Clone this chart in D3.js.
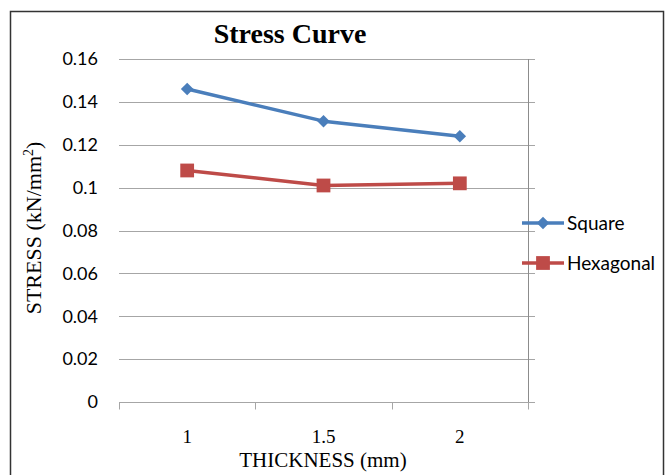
<!DOCTYPE html>
<html>
<head>
<meta charset="utf-8">
<script src="https://cdn.jsdelivr.net/npm/d3@7"></script>
<style>
  html, body { margin: 0; padding: 0; background: #fff; }
  svg { display: block; }
</style>
</head>
<body>
<svg id="chart" width="671" height="475"></svg>
<script>
// Thickness categories and stress values (kN/mm²)
const thickness = ["1", "1.5", "2"];
const squareStress = [0.146, 0.131, 0.124];
const hexagonalStress = [0.108, 0.101, 0.102];
const yTicks = [0, 0.02, 0.04, 0.06, 0.08, 0.1, 0.12, 0.14, 0.16];
const seriesNames = ["Square", "Hexagonal"];
const seriesColors = ["#4a7ebb", "#be4b48"];

const svg = d3.select("#chart");
const plot = { left: 119, right: 528, top: 59, bottom: 402 };

// Outer chart frame
svg.append("rect").attr("x", 10.5).attr("y", 11.5).attr("width", 653).attr("height", 480)
  .attr("fill", "#fff").attr("stroke", "#333").attr("stroke-width", 1.5);

const x = d3.scaleBand().domain(thickness).range([plot.left, plot.right]);
const y = d3.scaleLinear().domain([0, 0.16]).range([plot.bottom, plot.top]);

const sans = "Lato, 'Open Sans', sans-serif";
const serif = "'Liberation Serif', 'DejaVu Serif', serif";

// Horizontal gridlines
svg.append("g").selectAll("line").data(yTicks).join("line")
  .attr("x1", plot.left).attr("x2", plot.right + 7)
  .attr("y1", d => Math.round(y(d)) + 0.5).attr("y2", d => Math.round(y(d)) + 0.5)
  .attr("stroke", "#a6a6a6").attr("stroke-width", 1);

// Right vertical line
svg.append("line")
  .attr("x1", plot.right + 0.5).attr("x2", plot.right + 0.5)
  .attr("y1", plot.top).attr("y2", plot.bottom + 7)
  .attr("stroke", "#8c8c8c").attr("stroke-width", 1);

// Y tick labels
svg.append("g").selectAll("text").data(yTicks).join("text")
  .attr("x", 98).attr("y", d => y(d))
  .attr("dy", "0.35em")
  .attr("text-anchor", "end")
  .attr("font-family", sans).attr("font-size", 18).attr("fill", "#000")
  .text(d => d === 0 ? "0" : String(+d.toFixed(2)));

// X axis with band-boundary ticks
const xAxis = svg.append("g").attr("transform", `translate(0,${plot.bottom + 0.5})`);
xAxis.append("line").attr("x1", plot.left).attr("x2", plot.right + 7)
  .attr("stroke", "#a6a6a6");
const boundaries = thickness.map(d => x(d)).concat([x(thickness[thickness.length - 1]) + x.bandwidth()]);
xAxis.selectAll("line.tk").data(boundaries).join("line").attr("class", "tk")
  .attr("x1", d => Math.round(d) + 0.5).attr("x2", d => Math.round(d) + 0.5)
  .attr("y1", 0).attr("y2", 7).attr("stroke", "#a6a6a6");
xAxis.selectAll("text").data(thickness).join("text")
  .attr("x", d => x(d) + x.bandwidth() / 2).attr("y", 40)
  .attr("text-anchor", "middle")
  .attr("font-family", serif).attr("font-size", 19).attr("fill", "#000")
  .text(d => d);

// Title and axis titles
svg.append("text").attr("x", 290).attr("y", 43).attr("text-anchor", "middle")
  .attr("font-family", serif).attr("font-weight", "bold").attr("font-size", 28)
  .text("Stress Curve");
svg.append("text").attr("x", 323).attr("y", 467).attr("text-anchor", "middle")
  .attr("font-family", serif).attr("font-size", 21)
  .text("THICKNESS (mm)");
const yTitle = svg.append("text")
  .attr("transform", "translate(41,228) rotate(-90)")
  .attr("text-anchor", "middle")
  .attr("font-family", serif).attr("font-size", 22);
yTitle.append("tspan").text("STRESS (kN/mm");
yTitle.append("tspan").attr("font-size", 14).attr("dy", -8).text("2");
yTitle.append("tspan").attr("dy", 8).text(")");

// Series lines and markers
const series = [squareStress, hexagonalStress];
const line = d3.line().x((d, i) => x(thickness[i]) + x.bandwidth() / 2).y(d => y(d));
const diamond = d3.symbol().type(d3.symbolDiamond2).size(100);
const square = d3.symbol().type(d3.symbolSquare).size(190);
const shapes = [diamond, square];

series.forEach((vals, s) => {
  svg.append("path").datum(vals).attr("d", line)
    .attr("fill", "none").attr("stroke", seriesColors[s]).attr("stroke-width", 3.5)
    .attr("stroke-linejoin", "round");
  svg.append("g").selectAll("path").data(vals).join("path")
    .attr("transform", (d, i) => `translate(${x(thickness[i]) + x.bandwidth() / 2},${y(d)})`)
    .attr("d", shapes[s]).attr("fill", seriesColors[s]);
});

// Legend
const legendY = [223, 263];
seriesNames.forEach((name, s) => {
  const g = svg.append("g").attr("transform", `translate(522,${legendY[s]})`);
  g.append("line").attr("x1", 0).attr("x2", 42).attr("stroke", seriesColors[s]).attr("stroke-width", 3.5);
  g.append("path").attr("transform", "translate(21,0)").attr("d", shapes[s]).attr("fill", seriesColors[s]);
  g.append("text").attr("x", 45).attr("dy", "0.35em")
    .attr("font-family", sans).attr("font-size", 19).attr("fill", "#000").text(name);
});
</script>
</body>
</html>
